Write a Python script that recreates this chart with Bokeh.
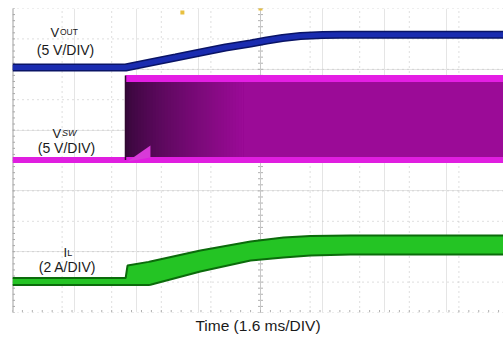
import numpy as np
from bokeh.plotting import figure
from bokeh.models import Range1d, Label, Title
from bokeh.embed import file_html
from bokeh.resources import INLINE

# ---------------- data (read from the scope capture) ----------------
TIME_PER_DIV = 1.6          # ms/div
VOUT_SCALE, VOUT_POS = 5.0, 8.06   # V/div, ground position (div from bottom)
VSW_SCALE, VSW_POS = 5.0, 5.02
IL_SCALE, IL_POS = 2.0, 1.02

t_vout = [0, 3.65, 4.45, 5.26, 6.06, 6.87, 7.68, 8.20, 8.71, 9.29, 10.0, 10.6, 12.0, 14.0, 16.0]
vout = [0, 0, 0.82, 1.64, 2.47, 3.29, 3.95, 4.44, 4.85, 5.18, 5.35, 5.40, 5.40, 5.40, 5.40]

t_vsw_low = [0, 16.0]
vsw_low = [0, 0]
t_vsw_high = [3.645, 16.0]
vsw_high = [13.4, 13.4]
t_vsw_wedge = [3.71, 4.45, 4.45]
vsw_wedge = [-0.25, 2.38, 0.4]

t_il = [0, 3.65, 3.71, 4.39, 4.45, 6.06, 7.68, 8.74, 9.61, 10.9, 16.0]
il_max = [0.23, 0.23, 1.05, 1.29, 1.32, 2.04, 2.63, 2.89, 2.99, 3.03, 3.03]
il_min = [-0.23, -0.23, -0.23, -0.23, -0.21, 0.66, 1.38, 1.58, 1.71, 1.78, 1.78]

trig_t = [5.48, 8.0]
trig_y = [9.87, 10.0]

FONT = "Liberation Sans"

def div_v(vals, scale, pos):
    return [pos + v / scale for v in vals]

p = figure(width=503, height=343, output_backend="svg", toolbar_location=None,
           x_axis_location=None, y_axis_location=None,
           x_range=Range1d(0, 491 / 49.6 * TIME_PER_DIV), y_range=Range1d(0, 10),
           min_border_left=12, min_border_right=0, min_border_top=8, min_border_bottom=31)
p.outline_line_color = None
p.background_fill_color = "white"
p.border_fill_color = "white"

# graticule
gx = np.arange(0, 11) * TIME_PER_DIV
gy = np.arange(0, 11)
p.multi_line(xs=[[x, x] for x in gx[1:]], ys=[[0, 10]] * len(gx[1:]),
             line_color="#bdbdbd", line_width=1, line_dash="1 4")
p.multi_line(xs=[[0, 17]] * len(gy), ys=[[y, y] for y in gy],
             line_color="#bdbdbd", line_width=1, line_dash="1 4")
p.segment(x0=[0], y0=[0], x1=[0], y1=[10], line_color="#a0a0a0", line_width=2)
minor_y = np.arange(0, 10.01, 0.2)
dx = 2.5 / 49.6 * TIME_PER_DIV
p.segment(x0=[0] * len(minor_y), y0=minor_y, x1=[dx] * len(minor_y), y1=minor_y,
          line_color="#a8a8a8", line_width=1)
cx = 5 * TIME_PER_DIV
p.segment(x0=[cx - dx] * len(minor_y), y0=minor_y, x1=[cx + dx] * len(minor_y), y1=minor_y,
          line_color="#b0b0b0", line_width=1)
p.segment(x0=[cx], y0=[0], x1=[cx], y1=[10], line_color="#c8c8c8", line_width=1)
minor_x = np.arange(0, 16.01, 0.2 * TIME_PER_DIV)
dy = 2.5 / 30.4
p.segment(x0=minor_x, y0=[0] * len(minor_x), x1=minor_x, y1=[dy] * len(minor_x),
          line_color="#b0b0b0", line_width=1)

# V_SW switching envelope: shaded band (gradient where the many cycles overlap)
hi_level = VSW_POS + vsw_high[0] / VSW_SCALE
p.quad(left=[t_vsw_high[0]], right=[t_vsw_high[-1]], bottom=[VSW_POS], top=[hi_level],
       fill_color="#9b0b97", line_color=None)
edges = np.linspace(t_vsw_high[0], 7.4, 40)
c0 = np.array([0x38, 0x08, 0x3c])
c1 = np.array([0x9b, 0x0b, 0x97])
fr = np.linspace(0, 1, len(edges)) ** 0.8
cols = ["#%02x%02x%02x" % tuple((c0 + (c1 - c0) * f).astype(int)) for f in fr]
# each strip spans to the end of the ramp; later strips cover earlier ones (no seams)
p.quad(left=edges, right=[edges[-1] + 0.05] * len(edges), bottom=[VSW_POS] * len(edges),
       top=[hi_level] * len(edges), fill_color=cols, line_color=None)
p.line(t_vsw_high, div_v(vsw_high, VSW_SCALE, VSW_POS), line_color="#e41ee4", line_width=7)
p.line(t_vsw_low, div_v(vsw_low, VSW_SCALE, VSW_POS), line_color="#e01ee0", line_width=6)
p.segment(x0=[t_vsw_high[0]], y0=[VSW_POS], x1=[t_vsw_high[0]], y1=[hi_level + 0.1],
          line_color="#300830", line_width=1.5)
p.patch(t_vsw_wedge, div_v(vsw_wedge, VSW_SCALE, VSW_POS), fill_color="#d83ad8", line_color=None)

# V_OUT
p.line(t_vout, div_v(vout, VOUT_SCALE, VOUT_POS), line_color="#0a1466", line_width=8)
p.line(t_vout, div_v(vout, VOUT_SCALE, VOUT_POS), line_color="#1a2cb0", line_width=5)

# I_L
p.varea(x=t_il, y1=div_v(il_min, IL_SCALE, IL_POS), y2=div_v(il_max, IL_SCALE, IL_POS),
        fill_color="#24c424")
p.line(t_il, div_v(il_max, IL_SCALE, IL_POS), line_color="#0b6b0b", line_width=2)
p.line(t_il, div_v(il_min, IL_SCALE, IL_POS), line_color="#0b6b0b", line_width=2)

p.scatter(trig_t, trig_y, marker="square", size=4, fill_color="#e8c040", line_color=None)

# ---------------- labels ----------------
def px_x(x):
    return (x - 12) / 49.6 * TIME_PER_DIV

def px_y(y):
    return (312 - y) / 30.4

def lab(text, x, y, size, align="left", style="normal"):
    p.add_layout(Label(x=px_x(x), y=px_y(y), text=text, text_font=FONT,
                       text_font_size=size, text_align=align, text_baseline="alphabetic",
                       text_color="#1a1a1a", text_font_style=style))

lab("V", 50, 31.5, "13px")
lab("OUT", 59.5, 31.5, "8.5px")
lab("(5 V/DIV)", 65, 49.5, "14px", "center")
lab("V", 52, 132.5, "13px")
lab("SW", 61.5, 132.5, "9px", style="italic")
lab("(5 V/DIV)", 66, 147, "14px", "center")
lab("I", 63, 252, "13px")
lab("L", 66.8, 252, "9px")
lab("(2 A/DIV)", 67, 266, "14px", "center")

p.add_layout(Title(text="Time (1.6 ms/DIV)", align="center", text_font=FONT,
                   text_font_size="15.5px", text_font_style="normal", text_color="#1a1a1a",
                   offset=3.5, standoff=4), "below")

open("out.html", "w").write(file_html(p, INLINE))
